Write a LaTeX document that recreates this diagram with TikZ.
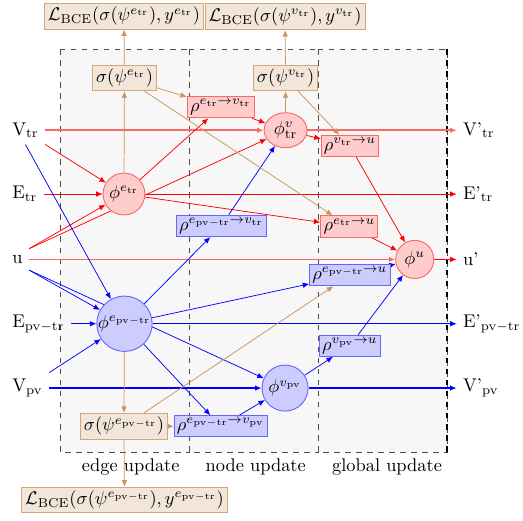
\documentclass[tikz,border=0pt]{standalone}
\usepackage{amsmath}
\usetikzlibrary{shapes.geometric, positioning, backgrounds, arrows.meta}

\tikzset{
  phired/.style={circle, draw=red!60, fill=red!20, inner sep=0pt},
  phiblue/.style={circle, draw=blue!60, fill=blue!20, inner sep=0pt},
  rhored/.style={rectangle, draw=red!60, fill=red!20, inner sep=1.5pt},
  rhoblue/.style={rectangle, draw=blue!60, fill=blue!20, inner sep=1.5pt},
  sigbox/.style={rectangle, draw=brown!70, fill=brown!20, inner sep=2pt},
  inlab/.style={anchor=west, font=\normalsize},
  outlab/.style={anchor=west, font=\normalsize},
  panel/.style={draw=black!70, dashed, fill=black!3},
  redarr/.style={->, red},
  bluearr/.style={->, blue},
  tanarr/.style={->, brown!85},
}

\begin{document}
\begin{tikzpicture}[>={Latex[length=3.5pt,width=3pt]}, line width=0.5pt]
\useasboundingbox (0,0) rectangle (10,-9.96);

% inputs and outputs
\node[inlab] (Vtr) at (0.11,-2.49) {V$_{\mathrm{tr}}$};
\node[inlab] (Etr) at (0.11,-3.71) {E$_{\mathrm{tr}}$};
\node[inlab] (u) at (0.11,-4.96) {u};
\node[inlab] (Epvtr) at (0.11,-6.19) {E$_{\mathrm{pv-tr}}$};
\node[inlab] (Vpv) at (0.11,-7.42) {V$_{\mathrm{pv}}$};
\node[outlab] (Vtro) at (8.73,-2.49) {V'$_{\mathrm{tr}}$};
\node[outlab] (Etro) at (8.73,-3.71) {E'$_{\mathrm{tr}}$};
\node[outlab] (uo) at (8.73,-4.96) {u'};
\node[outlab] (Epvtro) at (8.73,-6.19) {E'$_{\mathrm{pv-tr}}$};
\node[outlab] (Vpvo) at (8.73,-7.42) {V'$_{\mathrm{pv}}$};

% update functions
\node[phired, minimum size=0.8cm] (phietr) at (2.37,-3.71) {$\phi^{e_{\mathrm{tr}}}$};
\node[phiblue, minimum size=1.01cm] (phiepvtr) at (2.38,-6.19) {$\phi^{e_{\mathrm{pv-tr}}}$};
\node[phired, ellipse, minimum width=0.82cm, minimum height=0.67cm] (phivtr) at (5.46,-2.49) {$\phi^{v}_{\mathrm{tr}}$};
\node[phiblue, minimum size=0.88cm] (phivpv) at (5.45,-7.42) {$\phi^{v_{\mathrm{pv}}}$};
\node[phired, minimum size=0.73cm] (phiu) at (7.93,-4.96) {$\phi^{u}$};

% aggregations
\node[rhored] (rhoetrvtr) at (4.22,-2.05) {$\rho^{e_{\mathrm{tr}}\rightarrow v_{\mathrm{tr}}}$};
\node[rhoblue] (rhoepvtrvtr) at (4.23,-4.32) {$\rho^{e_{\mathrm{pv-tr}}\rightarrow v_{\mathrm{tr}}}$};
\node[rhoblue] (rhoepvtrvpv) at (4.22,-8.15) {$\rho^{e_{\mathrm{pv-tr}}\rightarrow v_{\mathrm{pv}}}$};
\node[rhored] (rhovtru) at (6.69,-2.79) {$\rho^{v_{\mathrm{tr}}\rightarrow u}$};
\node[rhored] (rhoetru) at (6.68,-4.33) {$\rho^{e_{\mathrm{tr}}\rightarrow u}$};
\node[rhoblue] (rhoepvtru) at (6.69,-5.26) {$\rho^{e_{\mathrm{pv-tr}}\rightarrow u}$};
\node[rhoblue] (rhovpvu) at (6.69,-6.61) {$\rho^{v_{\mathrm{pv}}\rightarrow u}$};

% predictions and losses
\node[sigbox] (sigetr) at (2.38,-1.49) {$\sigma(\psi^{e_{\mathrm{tr}}})$};
\node[sigbox] (sigvtr) at (5.46,-1.49) {$\sigma(\psi^{v_{\mathrm{tr}}})$};
\node[sigbox] (sigepvtr) at (2.37,-8.15) {$\sigma(\psi^{e_{\mathrm{pv-tr}}})$};
\node[sigbox] (Letr) at (2.37,-0.31) {$\mathcal{L}_{\mathrm{BCE}}(\sigma(\psi^{e_{\mathrm{tr}}}), y^{e_{\mathrm{tr}}})$};
\node[sigbox] (Lvtr) at (5.45,-0.32) {$\mathcal{L}_{\mathrm{BCE}}(\sigma(\psi^{v_{\mathrm{tr}}}), y^{v_{\mathrm{tr}}})$};
\node[sigbox] (Lepvtr) at (2.38,-9.56) {$\mathcal{L}_{\mathrm{BCE}}(\sigma(\psi^{e_{\mathrm{pv-tr}}}), y^{e_{\mathrm{pv-tr}}})$};

\node (edgelab) at (2.50,-8.93) {edge update};
\node (nodelab) at (4.89,-8.93) {node update};
\node (globlab) at (7.40,-8.93) {global update};

\begin{scope}[on background layer]
\draw[panel] (1.147,-0.937) rectangle (3.614,-8.642);
\draw[panel] (3.614,-0.937) rectangle (6.080,-8.642);
\draw[panel] (6.080,-0.937) rectangle (8.547,-8.642);
\draw[dashed, thick] (8.547,-0.937) -- (8.547,-8.642);

% red part
\draw[redarr, red!60, thick] (Vtr) -- (phivtr);
\draw[redarr, red!60, thick] (phivtr) -- (Vtro);
\draw[redarr] (Vtr.south east) -- (phietr);
\draw[redarr] (Etr) -- (phietr);
\draw[redarr] (phietr) -- (Etro);
\draw[redarr] (u.north east) -- (phietr);
\draw[redarr] (u.north east) -- (phivtr);
\draw[redarr, red!60, thick] (u) -- (phiu);
\draw[redarr] (phiu) -- (uo);
\draw[redarr] (phietr) -- (rhoetrvtr);
\draw[redarr] (rhoetrvtr) -- (phivtr);
\draw[redarr] (phietr) -- (rhoetru);
\draw[redarr] (phivtr) -- (rhovtru);
\draw[redarr] (rhovtru) -- (phiu);
\draw[redarr] (rhoetru) -- (phiu);

% blue part
\draw[bluearr] (Vtr.south) -- (phiepvtr);
\draw[bluearr] (u.south east) -- (phiepvtr);
\draw[bluearr] (u.south east) -- (phivpv);
\draw[bluearr] (Epvtr) -- (phiepvtr);
\draw[bluearr] (phiepvtr) -- (Epvtro);
\draw[bluearr] (Vpv.north east) -- (phiepvtr);
\draw[bluearr, thick] (Vpv) -- (phivpv);
\draw[bluearr, thick] (phivpv) -- (Vpvo);
\draw[bluearr] (phiepvtr) -- (rhoepvtrvtr);
\draw[bluearr] (rhoepvtrvtr) -- (phivtr);
\draw[bluearr] (phiepvtr) -- (rhoepvtru);
\draw[bluearr] (phiepvtr) -- (rhoepvtrvpv);
\draw[bluearr] (rhoepvtrvpv) -- (phivpv);
\draw[bluearr] (phivpv) -- (rhovpvu);
\draw[bluearr] (rhovpvu) -- (phiu);
\draw[bluearr] (rhoepvtru) -- (phiu);

% predictions
\draw[tanarr] (phietr) -- (sigetr);
\draw[tanarr] (sigetr) -- (Letr);
\draw[tanarr] (sigetr) -- (rhoetrvtr);
\draw[tanarr] (sigetr) -- (rhoetru);
\draw[tanarr] (phivtr) -- (sigvtr);
\draw[tanarr] (sigvtr) -- (Lvtr);
\draw[tanarr] (sigvtr) -- (rhovtru);
\draw[tanarr] (phiepvtr) -- (sigepvtr);
\draw[tanarr] (sigepvtr) -- (Lepvtr);
\draw[tanarr] (sigepvtr) -- (rhoepvtrvpv);
\draw[tanarr] (sigepvtr) -- (rhoepvtru);
\end{scope}
\end{tikzpicture}
\end{document}
